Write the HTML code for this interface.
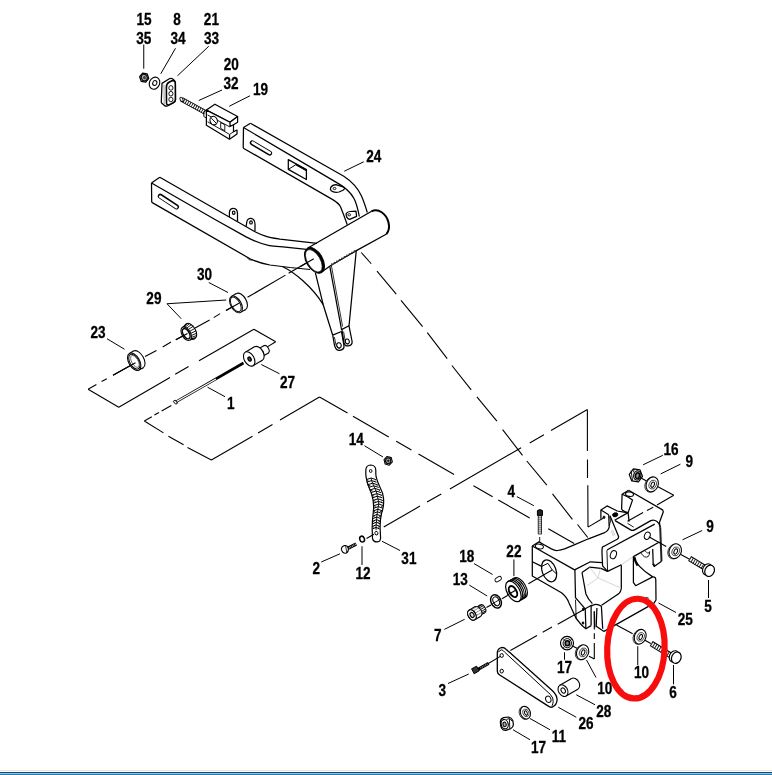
<!DOCTYPE html>
<html><head><meta charset="utf-8"><title>Parts diagram</title>
<style>
html,body{margin:0;padding:0;background:#fff;}
body{width:772px;height:775px;overflow:hidden;position:relative;}
svg{position:absolute;left:0;top:0;display:block;will-change:transform;}
svg text{font-family:"Liberation Sans",sans-serif;font-weight:bold;fill:#000;stroke:#000;stroke-width:0.3px;}
.bar{position:absolute;left:0;width:772px;height:1px;}
</style></head><body>
<svg width="772" height="775" viewBox="0 0 772 775" fill="none" stroke-linecap="butt" stroke-linejoin="round">
<text transform="translate(144.00 24.90) scale(0.87 1)" text-anchor="middle" font-size="15.6">15</text>
<text transform="translate(143.80 44.20) scale(0.87 1)" text-anchor="middle" font-size="15.6">35</text>
<text transform="translate(176.90 24.90) scale(0.87 1)" text-anchor="middle" font-size="15.6">8</text>
<text transform="translate(178.10 44.20) scale(0.87 1)" text-anchor="middle" font-size="15.6">34</text>
<text transform="translate(211.40 24.90) scale(0.87 1)" text-anchor="middle" font-size="15.6">21</text>
<text transform="translate(211.60 44.20) scale(0.87 1)" text-anchor="middle" font-size="15.6">33</text>
<text transform="translate(231.20 69.90) scale(0.87 1)" text-anchor="middle" font-size="15.6">20</text>
<text transform="translate(231.00 89.20) scale(0.87 1)" text-anchor="middle" font-size="15.6">32</text>
<text transform="translate(260.60 95.40) scale(0.87 1)" text-anchor="middle" font-size="15.6">19</text>
<text transform="translate(373.80 161.70) scale(0.87 1)" text-anchor="middle" font-size="15.6">24</text>
<text transform="translate(204.50 280.00) scale(0.87 1)" text-anchor="middle" font-size="15.6">30</text>
<text transform="translate(153.90 304.20) scale(0.87 1)" text-anchor="middle" font-size="15.6">29</text>
<text transform="translate(98.00 337.90) scale(0.87 1)" text-anchor="middle" font-size="15.6">23</text>
<text transform="translate(287.50 387.70) scale(0.87 1)" text-anchor="middle" font-size="15.6">27</text>
<text transform="translate(230.80 409.20) scale(0.87 1)" text-anchor="middle" font-size="15.6">1</text>
<text transform="translate(356.20 444.70) scale(0.87 1)" text-anchor="middle" font-size="15.6">14</text>
<text transform="translate(316.30 573.70) scale(0.87 1)" text-anchor="middle" font-size="15.6">2</text>
<text transform="translate(363.10 579.20) scale(0.87 1)" text-anchor="middle" font-size="15.6">12</text>
<text transform="translate(408.90 563.70) scale(0.87 1)" text-anchor="middle" font-size="15.6">31</text>
<text transform="translate(466.80 562.20) scale(0.87 1)" text-anchor="middle" font-size="15.6">18</text>
<text transform="translate(460.20 584.70) scale(0.87 1)" text-anchor="middle" font-size="15.6">13</text>
<text transform="translate(513.90 556.80) scale(0.87 1)" text-anchor="middle" font-size="15.6">22</text>
<text transform="translate(437.80 640.80) scale(0.87 1)" text-anchor="middle" font-size="15.6">7</text>
<text transform="translate(511.30 496.80) scale(0.87 1)" text-anchor="middle" font-size="15.6">4</text>
<text transform="translate(671.00 454.70) scale(0.87 1)" text-anchor="middle" font-size="15.6">16</text>
<text transform="translate(689.20 466.70) scale(0.87 1)" text-anchor="middle" font-size="15.6">9</text>
<text transform="translate(710.00 532.40) scale(0.87 1)" text-anchor="middle" font-size="15.6">9</text>
<text transform="translate(708.00 612.30) scale(0.87 1)" text-anchor="middle" font-size="15.6">5</text>
<text transform="translate(685.30 624.90) scale(0.87 1)" text-anchor="middle" font-size="15.6">25</text>
<text transform="translate(641.50 677.90) scale(0.87 1)" text-anchor="middle" font-size="15.6">10</text>
<text transform="translate(673.00 697.90) scale(0.87 1)" text-anchor="middle" font-size="15.6">6</text>
<text transform="translate(604.80 694.10) scale(0.87 1)" text-anchor="middle" font-size="15.6">10</text>
<text transform="translate(603.80 716.50) scale(0.87 1)" text-anchor="middle" font-size="15.6">28</text>
<text transform="translate(586.10 728.80) scale(0.87 1)" text-anchor="middle" font-size="15.6">26</text>
<text transform="translate(564.60 673.20) scale(0.87 1)" text-anchor="middle" font-size="15.6">17</text>
<text transform="translate(558.80 742.00) scale(0.87 1)" text-anchor="middle" font-size="15.6">11</text>
<text transform="translate(538.50 752.70) scale(0.87 1)" text-anchor="middle" font-size="15.6">17</text>
<text transform="translate(442.30 696.40) scale(0.87 1)" text-anchor="middle" font-size="15.6">3</text>
<path d="M143.75,44.50 L143.75,68.75 M175.50,48.25 L160.75,73.75 M208.75,46.25 L177.50,75.75 M222.00,90.00 L198.75,100.50 M250.00,95.75 L229.25,106.25 M344.25,171.25 L363.75,161.75 M208.75,282.50 L228.00,292.50 M167.00,303.75 L226.25,300.00 M167.00,303.75 L181.25,318.75 M107.00,338.75 L124.50,349.25 M261.25,364.50 L279.50,373.75 M207.50,387.20 L225.00,396.70 M364.50,445.75 L383.00,457.00 M321.25,562.00 L340.00,553.75 M362.00,546.25 L362.00,565.00 M382.00,541.25 L400.00,550.50 M474.00,563.60 L492.60,574.50 M469.30,585.10 L487.20,596.00 M513.90,559.40 L513.90,576.10 M444.40,629.40 L464.60,619.30 M516.80,496.60 L533.90,505.70 M643.10,464.80 L662.80,455.30 M660.70,473.90 L680.40,464.20 M682.50,539.80 L702.20,530.50 M708.50,580.00 L708.50,598.00 M658.50,603.00 L676.00,612.50 M637.75,646.25 L637.75,665.00 M673.50,665.00 L673.50,684.25 M586.50,660.00 L596.00,677.50 M576.25,694.75 L595.00,704.75 M558.25,707.25 L576.25,717.25 M564.50,652.25 L564.50,659.75 M530.00,718.50 L550.00,729.75 M513.00,729.75 L530.00,739.75 M448.00,683.50 L468.75,674.00" stroke="#000" stroke-width="1.0" fill="none" />
<path d="M361.25,252.50 L371.25,263.75 M377.00,271.20 L396.25,294.20 M401.00,300.30 L422.60,326.60 M427.30,332.60 L447.20,358.60 M451.90,365.50 L471.20,389.80 M476.90,396.90 L496.90,421.10 M502.60,429.70 L522.50,455.30 M526.80,461.00 L546.80,485.20 M552.50,493.80 L572.40,519.40 M577.50,524.50 L587.80,537.50 M313.75,258.75 L288.60,273.30 M285.50,275.10 L247.50,297.30 M239.40,303.10 L226.00,310.60 M220.10,313.60 L213.70,317.60 M209.60,320.00 L195.10,328.10 M187.50,333.40 L175.80,339.80 M171.00,342.10 L162.70,346.90 M156.50,350.40 L145.10,356.60 M135.00,363.00 L113.00,375.30 M106.80,378.80 L101.60,381.50 M96.40,384.60 L88.10,389.20 M88.10,389.20 L118.75,407.20 M118.75,407.20 L170.00,377.40 M175.20,374.20 L188.60,366.40 M199.00,360.80 L253.90,329.30 M253.90,329.30 L275.70,341.70 M275.70,341.70 L266.50,347.40 M144.30,421.00 L151.80,416.70 M154.40,415.00 L159.00,412.50 M161.60,410.90 L171.30,405.50 M144.30,421.00 L163.50,432.90 M168.40,436.20 L183.60,444.80 M187.50,447.40 L211.40,460.10 M211.40,460.10 L252.50,436.20 M258.00,433.00 L272.50,424.50 M280.00,420.00 L319.50,397.00 M319.50,397.00 L347.50,413.10 M353.00,416.30 L388.75,436.90 M396.25,441.20 L411.40,449.90 M418.50,454.00 L454.10,474.50 M473.50,485.70 L492.60,496.70 M498.30,500.00 L529.70,518.00 M548.30,528.70 L574.20,543.60 M383.75,527.00 L420.00,506.10 M427.00,502.10 L441.25,493.90 M449.90,488.90 L521.10,447.80 M529.70,442.90 L543.90,434.70 M551.00,430.60 L587.40,409.60 M587.40,409.60 L587.40,451.00 M587.50,459.60 L587.50,478.10 M587.80,485.20 L588.00,527.10 M588.00,527.10 L603.00,518.30" stroke="#000" stroke-width="1.1" fill="none" />
<path d="M250.5,123.3 L343.8,176.2 C352,181.5 358.5,189.5 361.5,196 C363.5,200.5 365.5,206.5 367.3,212.5" stroke="#000" stroke-width="1.25" fill="none" />
<path d="M243.5,127.5 L336.8,182.6 C345,187 351,193 354,198.5 C356.5,203.5 358,209.5 359.3,216.5" stroke="#000" stroke-width="1.25" fill="none" />
<path d="M243.5,127.5 L250.5,123.3" stroke="#000" stroke-width="1.25" fill="none" />
<path d="M243.5,127.5 L243.2,147.2 Q243.2,148.2 244.2,148.7 L331,198.6 C337,201.8 339.5,204 340.8,207.5 L343.8,215.3 L347.3,224.8" stroke="#000" stroke-width="1.25" fill="none" />
<path d="M252.3,142.9 L269.6,153.2" stroke="#000" stroke-width="5.0" fill="none" stroke-linecap="round"/>
<path d="M252.6,142.6 L269.8,152.8" stroke="#fff" stroke-width="2.6" fill="none" stroke-linecap="round"/>
<path d="M288.30,159.60 L306.40,169.60 L306.40,179.50 L288.30,169.40 Z" stroke="#000" stroke-width="1.25" fill="none" />
<path d="M288.30,169.40 L295.70,164.80 L306.40,170.90" stroke="#000" stroke-width="1.0" fill="none" />
<path d="M295.70,164.00 L306.40,170.00" stroke="#000" stroke-width="1.4" fill="none" />
<path d="M330.6,187.6 Q332.5,184.6 336,184.6 L343.8,187.2 Q345.6,188.6 343,190.2 L339,192 Q334,193 331.2,190.8 Q330,189.2 330.6,187.6 Z" stroke="#000" stroke-width="1.25" fill="none" />
<ellipse cx="334.50" cy="188.50" rx="1.40" ry="1.10" stroke="#000" stroke-width="0.9" fill="none"/>
<path d="M346.1,213.6 Q347.5,211.6 350,211.5 L356,211.2 L356.6,216.4 L349.6,219.4 Q346,218.5 346.1,213.6 Z" stroke="#000" stroke-width="1.25" fill="none" />
<ellipse cx="349.20" cy="214.80" rx="1.40" ry="1.10" stroke="#000" stroke-width="0.9" fill="none"/>
<path d="M159.8,177.3 L255,231.8 C259,233.9 262,235 265.5,236.1 C270,237.6 274,238.2 280,239.2 L317,243.4" stroke="#000" stroke-width="1.25" fill="none" />
<path d="M151.5,183 L215,219.5 L246.1,236.9 C254,241.0 262,244.2 269.4,245.6 C274,246.4 279,246.5 283,246.8 L306.5,249.4" stroke="#000" stroke-width="1.25" fill="none" />
<path d="M151.5,183 L159.8,177.3" stroke="#000" stroke-width="1.25" fill="none" />
<path d="M151.5,183 L151.7,201.4 Q151.7,202.4 152.7,202.9 L250,258.75 C258,262.5 264,264 270,265 L290,267.5 L310,269.5" stroke="#000" stroke-width="1.25" fill="none" />
<path d="M160.3,196.2 L176.5,206.8" stroke="#000" stroke-width="5.0" fill="none" stroke-linecap="round"/>
<path d="M160.2,196.6 L176.3,207.2" stroke="#fff" stroke-width="2.6" fill="none" stroke-linecap="round"/>
<path d="M229.4,216.9 L229.4,212.6 C229.6,206.8 237.3,206.6 237.5,213.4 L237.5,221.8" stroke="#000" stroke-width="1.25" fill="none" />
<ellipse cx="233.70" cy="212.70" rx="1.30" ry="1.60" stroke="#000" stroke-width="1.2" fill="none"/>
<path d="M246.1,226.6 L246.8,222 C247.6,216.4 254.8,217.2 255,224 L255,231.2" stroke="#000" stroke-width="1.25" fill="none" />
<ellipse cx="251.00" cy="222.40" rx="1.30" ry="1.60" stroke="#000" stroke-width="1.2" fill="none"/>
<path d="M247,257.5 Q249,261 252.5,260" stroke="#000" stroke-width="0.9" fill="none" />
<path d="M307.4,248.3 L371.6,211.3" stroke="#000" stroke-width="1.25" fill="none" />
<path d="M322.4,271.4 L330.4,265.7 L357.3,250.1 L386.6,234.0" stroke="#000" stroke-width="1.25" fill="none" />
<path d="M331.5,264.6 L356.5,250.1" stroke="#333" stroke-width="2.0" fill="none" stroke-dasharray="1.3 1.6"/>
<path d="M371.4,211.4 C378.5,208 386,213.5 388.4,222 C389.8,227.5 388.6,231.5 386.4,234.2" stroke="#000" stroke-width="2.0" fill="none" />
<ellipse cx="314.50" cy="260.40" rx="8.20" ry="14.00" stroke="#000" stroke-width="1.0" fill="#000" transform="rotate(-30.5 314.50 260.40)"/>
<ellipse cx="313.80" cy="260.80" rx="6.40" ry="12.40" stroke="#000" stroke-width="0.6" fill="#fff" transform="rotate(-30.5 313.80 260.80)"/>
<line x1="313.75" y1="258.75" x2="300.00" y2="266.80" stroke="#000" stroke-width="1.1" />
<path d="M282.8,266.7 C293,271.5 312,286 323.2,304.7" stroke="#000" stroke-width="1.25" fill="none" />
<path d="M315.4,272.9 L323.2,304.7 L332.7,335.2" stroke="#000" stroke-width="1.25" fill="none" />
<path d="M329.8,266.3 L341.6,330" stroke="#000" stroke-width="1.25" fill="none" />
<path d="M331.4,265.6 L342.6,326.5" stroke="#000" stroke-width="0.8" fill="none" />
<path d="M356.3,250.3 L349,326" stroke="#000" stroke-width="1.25" fill="none" />
<path d="M332.7,335.2 L341.5,331.5 M332.7,335.2 L334.5,345.3 Q336,350.8 340,350.3 Q344.5,349.5 344,346 L341.5,331.5" stroke="#000" stroke-width="1.25" fill="none" />
<ellipse cx="339.00" cy="345.30" rx="2.20" ry="2.60" stroke="#000" stroke-width="1.0" fill="none" transform="rotate(-15 339.00 345.30)"/>
<path d="M334.4,337.0 L336.0,345.0 Q337.2,348.8 340.2,348.6" stroke="#000" stroke-width="0.8" fill="none" />
<path d="M341.5,329.6 L349,325.8 M342,330.2 L344,342.8 Q345,346.5 348.4,345.9 Q352.6,345 352.1,341.5 L349,325.8" stroke="#000" stroke-width="1.25" fill="none" />
<ellipse cx="347.30" cy="341.30" rx="2.00" ry="2.40" stroke="#000" stroke-width="1.0" fill="none" transform="rotate(-15 347.30 341.30)"/>
<path d="M343.6,331.6 L345.4,342.2 Q346.2,344.6 348.4,344.4" stroke="#000" stroke-width="0.8" fill="none" />
<path d="M148.73,78.44 L145.77,82.14 L141.24,81.30 L139.67,76.76 L142.63,73.06 L147.16,73.90 Z" stroke="#000" stroke-width="1.3" fill="#fff" />
<ellipse cx="144.30" cy="77.60" rx="2.90" ry="3.30" stroke="#111" stroke-width="1.3" fill="#bbb" transform="rotate(-20 144.30 77.60)"/>
<ellipse cx="144.50" cy="77.60" rx="1.10" ry="1.30" stroke="#222" stroke-width="0.7" fill="#555" transform="rotate(-20 144.50 77.60)"/>
<ellipse cx="154.50" cy="83.20" rx="5.10" ry="6.20" stroke="#000" stroke-width="1.1" fill="#fff" transform="rotate(25 154.50 83.20)"/>
<ellipse cx="154.80" cy="83.00" rx="2.00" ry="2.50" stroke="#000" stroke-width="1.0" fill="#fff" transform="rotate(25 154.80 83.00)"/>
<path d="M162,83.4 L169.3,78.8 Q171.5,77.8 173.5,79.6 Q175.4,81.2 175.4,83.5 L175.5,100 Q175.3,102 173.6,102.8 L167.4,106 Q165.6,106.6 164.2,105.2 L161.6,103 Q161.2,102.4 161.3,101.5 Z" stroke="#000" stroke-width="1.25" fill="#fff" />
<path d="M166.4,87.5 Q166.2,84 169,82.3 L172,80.7 Q175.2,80.2 175.3,83.5 L175.4,99.5 Q175.2,101.8 173.4,102.6 L169,104.9 Q166.6,105.4 166.5,103 Z" stroke="#000" stroke-width="1.6" fill="#fff" />
<line x1="164.00" y1="84.50" x2="164.20" y2="104.20" stroke="#777" stroke-width="0.7" />
<ellipse cx="170.90" cy="87.90" rx="2.10" ry="2.30" stroke="#000" stroke-width="0.9" fill="none"/>
<ellipse cx="170.90" cy="93.70" rx="2.10" ry="2.30" stroke="#000" stroke-width="0.9" fill="none"/>
<ellipse cx="170.90" cy="99.50" rx="2.10" ry="2.30" stroke="#000" stroke-width="0.9" fill="none"/>
<path d="M181.6,99.4 L205.3,112.3" stroke="#000" stroke-width="4.8" fill="none" />
<path d="M181.6,99.4 L205.3,112.3" stroke="#fff" stroke-width="3.2" fill="none" />
<path d="M181.6,99.4 L205.3,112.3" stroke="#111" stroke-width="4.0" fill="none" stroke-dasharray="0.9 1.4"/>
<ellipse cx="181.50" cy="99.40" rx="1.30" ry="2.40" stroke="#000" stroke-width="0.9" fill="#fff" transform="rotate(-28 181.50 99.40)"/>
<path d="M206.40,110.10 L214.90,104.20 L237.60,116.50 L230.00,122.30 Z" stroke="#000" stroke-width="1.25" fill="#fff" />
<path d="M206.40,110.10 L206.40,125.20 L229.50,139.20 L237.00,134.00 L237.00,130.00 L233.50,131.80 L233.50,124.80 L237.60,122.20 L237.60,116.50 L230.00,122.30 L206.40,110.10" stroke="#000" stroke-width="1.25" fill="#fff" />
<path d="M230.00,122.30 L230.00,126.40 L233.50,124.80" stroke="#000" stroke-width="1.25" fill="none" />
<path d="M207.60,115.00 L230.00,127.00" stroke="#000" stroke-width="0.9" fill="none" />
<path d="M207.60,121.80 L229.60,134.40 L233.50,131.80" stroke="#000" stroke-width="0.9" fill="none" />
<path d="M229.60,134.40 L229.50,139.20" stroke="#000" stroke-width="1.25" fill="none" />
<ellipse cx="213.70" cy="120.60" rx="3.60" ry="4.30" stroke="#000" stroke-width="1.1" fill="#fff" transform="rotate(-20 213.70 120.60)"/>
<line x1="211.30" y1="118.20" x2="216.20" y2="123.20" stroke="#000" stroke-width="1.0" />
<path d="M220.70,122.50 L224.80,124.80 L224.80,130.80 L220.70,128.40 Z" stroke="#000" stroke-width="0.9" fill="none" />
<line x1="206.40" y1="110.10" x2="203.80" y2="111.80" stroke="#000" stroke-width="0.9" />
<line x1="203.80" y1="111.80" x2="203.80" y2="116.50" stroke="#000" stroke-width="0.9" />
<line x1="203.80" y1="116.50" x2="206.40" y2="118.00" stroke="#000" stroke-width="0.9" />
<ellipse cx="241.02" cy="301.49" rx="5.20" ry="9.20" stroke="#000" stroke-width="1.1" fill="#fff" transform="rotate(-30 241.02 301.49)"/>
<path d="M231.38,296.44 L236.40,293.53 L245.64,309.45 L240.62,312.36 Z" stroke="#fff" stroke-width="0.01" fill="#fff" />
<line x1="231.38" y1="296.44" x2="236.40" y2="293.53" stroke="#000" stroke-width="1.1" />
<line x1="240.62" y1="312.36" x2="245.64" y2="309.45" stroke="#000" stroke-width="1.1" />
<ellipse cx="236.00" cy="304.40" rx="5.20" ry="9.20" stroke="#000" stroke-width="1.1" fill="#fff" transform="rotate(-30 236.00 304.40)"/>
<ellipse cx="235.80" cy="304.40" rx="4.20" ry="8.00" stroke="#000" stroke-width="0.9" fill="#fff" transform="rotate(-30 235.80 304.40)"/>
<line x1="226.00" y1="310.60" x2="239.40" y2="303.10" stroke="#000" stroke-width="1.1" />
<ellipse cx="190.60" cy="331.20" rx="5.00" ry="8.60" stroke="#000" stroke-width="1.1" fill="#fff" transform="rotate(-30 190.60 331.20)"/>
<line x1="184.54" y1="326.88" x2="180.99" y2="329.98" stroke="#000" stroke-width="0.9" />
<line x1="185.08" y1="325.06" x2="181.45" y2="328.42" stroke="#000" stroke-width="0.9" />
<line x1="186.15" y1="323.85" x2="182.37" y2="327.37" stroke="#000" stroke-width="0.9" />
<line x1="187.66" y1="323.35" x2="183.67" y2="326.95" stroke="#000" stroke-width="0.9" />
<line x1="189.45" y1="323.63" x2="185.21" y2="327.18" stroke="#000" stroke-width="0.9" />
<line x1="191.36" y1="324.64" x2="186.85" y2="328.06" stroke="#000" stroke-width="0.9" />
<line x1="193.19" y1="326.30" x2="188.43" y2="329.48" stroke="#000" stroke-width="0.9" />
<line x1="194.77" y1="328.43" x2="189.79" y2="331.32" stroke="#000" stroke-width="0.9" />
<line x1="195.94" y1="330.84" x2="190.80" y2="333.39" stroke="#000" stroke-width="0.9" />
<line x1="196.59" y1="333.29" x2="191.36" y2="335.50" stroke="#000" stroke-width="0.9" />
<line x1="196.66" y1="335.52" x2="191.41" y2="337.42" stroke="#000" stroke-width="0.9" />
<line x1="196.12" y1="337.34" x2="190.95" y2="338.98" stroke="#000" stroke-width="0.9" />
<line x1="195.05" y1="338.55" x2="190.03" y2="340.03" stroke="#000" stroke-width="0.9" />
<ellipse cx="186.20" cy="333.70" rx="4.30" ry="7.40" stroke="#000" stroke-width="1.1" fill="#fff" transform="rotate(-30 186.20 333.70)"/>
<ellipse cx="186.20" cy="333.70" rx="3.00" ry="5.60" stroke="#000" stroke-width="1.5" fill="#fff" transform="rotate(-30 186.20 333.70)"/>
<line x1="175.80" y1="339.80" x2="187.50" y2="333.40" stroke="#000" stroke-width="1.1" />
<ellipse cx="138.35" cy="359.39" rx="5.40" ry="9.60" stroke="#000" stroke-width="1.1" fill="#fff" transform="rotate(-30 138.35 359.39)"/>
<path d="M129.38,353.50 L133.53,351.09 L143.17,367.69 L139.02,370.10 Z" stroke="#fff" stroke-width="0.01" fill="#fff" />
<line x1="129.38" y1="353.50" x2="133.53" y2="351.09" stroke="#000" stroke-width="1.1" />
<line x1="139.02" y1="370.10" x2="143.17" y2="367.69" stroke="#000" stroke-width="1.1" />
<ellipse cx="134.20" cy="361.80" rx="5.40" ry="9.60" stroke="#000" stroke-width="1.1" fill="#fff" transform="rotate(-30 134.20 361.80)"/>
<ellipse cx="134.30" cy="361.70" rx="4.40" ry="8.20" stroke="#000" stroke-width="1.0" fill="#fff" transform="rotate(-30 134.30 361.70)"/>
<ellipse cx="134.90" cy="361.40" rx="3.20" ry="6.60" stroke="#555" stroke-width="0.8" fill="#fff" transform="rotate(-30 134.90 361.40)"/>
<line x1="113.00" y1="375.30" x2="135.50" y2="362.70" stroke="#000" stroke-width="1.1" />
<ellipse cx="265.95" cy="349.44" rx="2.70" ry="4.30" stroke="#000" stroke-width="1.1" fill="#fff" transform="rotate(-30 265.95 349.44)"/>
<path d="M258.34,348.88 L263.79,345.72 L268.11,353.16 L262.66,356.32 Z" stroke="#fff" stroke-width="0.01" fill="#fff" />
<line x1="258.34" y1="348.88" x2="263.79" y2="345.72" stroke="#000" stroke-width="1.1" />
<line x1="262.66" y1="356.32" x2="268.11" y2="353.16" stroke="#000" stroke-width="1.1" />
<ellipse cx="260.50" cy="352.60" rx="2.70" ry="4.30" stroke="#000" stroke-width="1.1" fill="#fff" transform="rotate(-30 260.50 352.60)"/>
<ellipse cx="258.37" cy="353.58" rx="4.90" ry="7.80" stroke="#000" stroke-width="1.1" fill="#fff" transform="rotate(-30 258.37 353.58)"/>
<path d="M245.28,352.15 L254.45,346.83 L262.28,360.33 L253.12,365.65 Z" stroke="#fff" stroke-width="0.01" fill="#fff" />
<line x1="245.28" y1="352.15" x2="254.45" y2="346.83" stroke="#000" stroke-width="1.1" />
<line x1="253.12" y1="365.65" x2="262.28" y2="360.33" stroke="#000" stroke-width="1.1" />
<ellipse cx="249.20" cy="358.90" rx="4.90" ry="7.80" stroke="#000" stroke-width="1.1" fill="#fff" transform="rotate(-30 249.20 358.90)"/>
<ellipse cx="249.60" cy="359.10" rx="1.40" ry="2.10" stroke="#000" stroke-width="1.4" fill="#555" transform="rotate(-30 249.60 359.10)"/>
<path d="M175.5,402.2 L243.5,363.0" stroke="#000" stroke-width="2.6" fill="none" />
<path d="M176.5,401.6 L216,378.9" stroke="#fff" stroke-width="1.2" fill="none" />
<path d="M173.2,401.4 L175.7,404.2 L177.6,403.2 L175.2,400.2 Z" stroke="#000" stroke-width="1.0" fill="#fff" />
<path d="M392.35,461.97 L389.31,465.16 L385.16,463.99 L384.05,459.63 L387.09,456.44 L391.24,457.61 Z" stroke="#000" stroke-width="1.1" fill="#fff" />
<ellipse cx="388.20" cy="460.80" rx="2.37" ry="2.58" stroke="#000" stroke-width="0.9" fill="#fff"/>
<ellipse cx="388.20" cy="460.80" rx="2.60" ry="2.90" stroke="#111" stroke-width="1.3" fill="#bbb"/>
<ellipse cx="388.30" cy="460.80" rx="0.90" ry="1.00" stroke="#000" stroke-width="0.6" fill="#333"/>
<path d="M365.8,474 L365.8,470.5 Q365.8,465.2 370.7,465.0 Q375.8,465.2 375.8,470.5 L375.8,474 C376,481 380.3,486.5 382.6,493.5 C384.4,500.5 383.9,507 381.6,513 C380.2,519 379.9,524 380.2,530 L380.6,538 Q380.4,541.6 377.5,541.9 Q373.5,542.2 372.5,538.5 L372.2,530 C372,524 372.4,519 373.3,512 C374.2,505 373.6,500 371.6,494 C369,487 366,482 365.8,474 Z" stroke="#000" stroke-width="1.2" fill="#fff" />
<line x1="366.42" y1="479.60" x2="371.11" y2="478.00" stroke="#000" stroke-width="1.0" />
<line x1="371.11" y1="478.00" x2="375.80" y2="479.60" stroke="#000" stroke-width="1.0" />
<line x1="371.11" y1="478.00" x2="371.57" y2="480.60" stroke="#000" stroke-width="0.9" />
<line x1="366.42" y1="479.60" x2="368.37" y2="480.60" stroke="#000" stroke-width="0.8" />
<line x1="375.80" y1="479.60" x2="374.78" y2="480.60" stroke="#000" stroke-width="0.8" />
<line x1="366.57" y1="482.20" x2="371.57" y2="480.60" stroke="#000" stroke-width="1.0" />
<line x1="371.57" y1="480.60" x2="376.58" y2="482.20" stroke="#000" stroke-width="1.0" />
<line x1="371.57" y1="480.60" x2="372.58" y2="483.20" stroke="#000" stroke-width="0.9" />
<line x1="367.48" y1="484.80" x2="372.58" y2="483.20" stroke="#000" stroke-width="1.0" />
<line x1="372.58" y1="483.20" x2="377.67" y2="484.80" stroke="#000" stroke-width="1.0" />
<line x1="372.58" y1="483.20" x2="373.70" y2="485.80" stroke="#000" stroke-width="0.9" />
<line x1="367.48" y1="484.80" x2="370.44" y2="485.80" stroke="#000" stroke-width="0.8" />
<line x1="377.67" y1="484.80" x2="376.97" y2="485.80" stroke="#000" stroke-width="0.8" />
<line x1="368.64" y1="487.40" x2="373.70" y2="485.80" stroke="#000" stroke-width="1.0" />
<line x1="373.70" y1="485.80" x2="378.77" y2="487.40" stroke="#000" stroke-width="1.0" />
<line x1="373.70" y1="485.80" x2="374.83" y2="488.40" stroke="#000" stroke-width="0.9" />
<line x1="369.79" y1="490.00" x2="374.83" y2="488.40" stroke="#000" stroke-width="1.0" />
<line x1="374.83" y1="488.40" x2="379.87" y2="490.00" stroke="#000" stroke-width="1.0" />
<line x1="374.83" y1="488.40" x2="375.95" y2="491.00" stroke="#000" stroke-width="0.9" />
<line x1="369.79" y1="490.00" x2="372.74" y2="491.00" stroke="#000" stroke-width="0.8" />
<line x1="379.87" y1="490.00" x2="379.17" y2="491.00" stroke="#000" stroke-width="0.8" />
<line x1="370.94" y1="492.60" x2="375.95" y2="491.00" stroke="#000" stroke-width="1.0" />
<line x1="375.95" y1="491.00" x2="380.97" y2="492.60" stroke="#000" stroke-width="1.0" />
<line x1="375.95" y1="491.00" x2="376.83" y2="493.60" stroke="#000" stroke-width="0.9" />
<line x1="371.88" y1="495.20" x2="376.83" y2="493.60" stroke="#000" stroke-width="1.0" />
<line x1="376.83" y1="493.60" x2="381.78" y2="495.20" stroke="#000" stroke-width="1.0" />
<line x1="376.83" y1="493.60" x2="377.37" y2="496.20" stroke="#000" stroke-width="0.9" />
<line x1="371.88" y1="495.20" x2="374.32" y2="496.20" stroke="#000" stroke-width="0.8" />
<line x1="381.78" y1="495.20" x2="380.42" y2="496.20" stroke="#000" stroke-width="0.8" />
<line x1="372.52" y1="497.80" x2="377.37" y2="496.20" stroke="#000" stroke-width="1.0" />
<line x1="377.37" y1="496.20" x2="382.22" y2="497.80" stroke="#000" stroke-width="1.0" />
<line x1="377.37" y1="496.20" x2="377.92" y2="498.80" stroke="#000" stroke-width="0.9" />
<line x1="373.18" y1="500.40" x2="377.92" y2="498.80" stroke="#000" stroke-width="1.0" />
<line x1="377.92" y1="498.80" x2="382.66" y2="500.40" stroke="#000" stroke-width="1.0" />
<line x1="377.92" y1="498.80" x2="378.46" y2="501.40" stroke="#000" stroke-width="0.9" />
<line x1="373.18" y1="500.40" x2="375.63" y2="501.40" stroke="#000" stroke-width="0.8" />
<line x1="382.66" y1="500.40" x2="381.30" y2="501.40" stroke="#000" stroke-width="0.8" />
<line x1="373.83" y1="503.00" x2="378.46" y2="501.40" stroke="#000" stroke-width="1.0" />
<line x1="378.46" y1="501.40" x2="383.10" y2="503.00" stroke="#000" stroke-width="1.0" />
<line x1="378.46" y1="501.40" x2="378.72" y2="504.00" stroke="#000" stroke-width="0.9" />
<line x1="373.98" y1="505.60" x2="378.72" y2="504.00" stroke="#000" stroke-width="1.0" />
<line x1="378.72" y1="504.00" x2="383.45" y2="505.60" stroke="#000" stroke-width="1.0" />
<line x1="378.72" y1="504.00" x2="378.31" y2="506.60" stroke="#000" stroke-width="0.9" />
<line x1="373.98" y1="505.60" x2="375.57" y2="506.60" stroke="#000" stroke-width="0.8" />
<line x1="383.45" y1="505.60" x2="381.05" y2="506.60" stroke="#000" stroke-width="0.8" />
<line x1="373.77" y1="508.20" x2="378.31" y2="506.60" stroke="#000" stroke-width="1.0" />
<line x1="378.31" y1="506.60" x2="382.85" y2="508.20" stroke="#000" stroke-width="1.0" />
<line x1="378.31" y1="506.60" x2="377.90" y2="509.20" stroke="#000" stroke-width="0.9" />
<line x1="373.56" y1="510.80" x2="377.90" y2="509.20" stroke="#000" stroke-width="1.0" />
<line x1="377.90" y1="509.20" x2="382.24" y2="510.80" stroke="#000" stroke-width="1.0" />
<line x1="377.90" y1="509.20" x2="377.49" y2="511.80" stroke="#000" stroke-width="0.9" />
<line x1="373.56" y1="510.80" x2="375.15" y2="511.80" stroke="#000" stroke-width="0.8" />
<line x1="382.24" y1="510.80" x2="379.83" y2="511.80" stroke="#000" stroke-width="0.8" />
<line x1="373.35" y1="513.40" x2="377.49" y2="511.80" stroke="#000" stroke-width="1.0" />
<line x1="377.49" y1="511.80" x2="381.63" y2="513.40" stroke="#000" stroke-width="1.0" />
<line x1="377.49" y1="511.80" x2="377.08" y2="514.40" stroke="#000" stroke-width="0.9" />
<line x1="373.14" y1="516.00" x2="377.08" y2="514.40" stroke="#000" stroke-width="1.0" />
<line x1="377.08" y1="514.40" x2="381.02" y2="516.00" stroke="#000" stroke-width="1.0" />
<line x1="377.08" y1="514.40" x2="376.74" y2="517.00" stroke="#000" stroke-width="0.9" />
<line x1="373.14" y1="516.00" x2="374.76" y2="517.00" stroke="#000" stroke-width="0.8" />
<line x1="381.02" y1="516.00" x2="378.73" y2="517.00" stroke="#000" stroke-width="0.8" />
<line x1="372.96" y1="518.60" x2="376.74" y2="517.00" stroke="#000" stroke-width="1.0" />
<line x1="376.74" y1="517.00" x2="380.53" y2="518.60" stroke="#000" stroke-width="1.0" />
<line x1="376.74" y1="517.00" x2="376.56" y2="519.60" stroke="#000" stroke-width="0.9" />
<line x1="372.82" y1="521.20" x2="376.56" y2="519.60" stroke="#000" stroke-width="1.0" />
<line x1="376.56" y1="519.60" x2="380.30" y2="521.20" stroke="#000" stroke-width="1.0" />
<line x1="376.56" y1="519.60" x2="376.38" y2="522.20" stroke="#000" stroke-width="0.9" />
<line x1="372.82" y1="521.20" x2="374.48" y2="522.20" stroke="#000" stroke-width="0.8" />
<line x1="380.30" y1="521.20" x2="378.27" y2="522.20" stroke="#000" stroke-width="0.8" />
<line x1="372.68" y1="523.80" x2="376.38" y2="522.20" stroke="#000" stroke-width="1.0" />
<line x1="376.38" y1="522.20" x2="380.07" y2="523.80" stroke="#000" stroke-width="1.0" />
<line x1="376.38" y1="522.20" x2="376.19" y2="524.80" stroke="#000" stroke-width="0.9" />
<line x1="372.54" y1="526.40" x2="376.19" y2="524.80" stroke="#000" stroke-width="1.0" />
<line x1="376.19" y1="524.80" x2="379.84" y2="526.40" stroke="#000" stroke-width="1.0" />
<line x1="376.19" y1="524.80" x2="376.01" y2="527.40" stroke="#000" stroke-width="0.9" />
<line x1="372.54" y1="526.40" x2="374.21" y2="527.40" stroke="#000" stroke-width="0.8" />
<line x1="379.84" y1="526.40" x2="377.81" y2="527.40" stroke="#000" stroke-width="0.8" />
<line x1="372.41" y1="529.00" x2="376.01" y2="527.40" stroke="#000" stroke-width="1.0" />
<line x1="376.01" y1="527.40" x2="379.61" y2="529.00" stroke="#000" stroke-width="1.0" />
<line x1="376.01" y1="527.40" x2="376.11" y2="530.00" stroke="#000" stroke-width="0.9" />
<ellipse cx="370.70" cy="471.00" rx="1.30" ry="1.50" stroke="#000" stroke-width="0.9" fill="none"/>
<ellipse cx="376.40" cy="533.20" rx="1.50" ry="1.90" stroke="#000" stroke-width="0.9" fill="none" transform="rotate(-20 376.40 533.20)"/>
<line x1="366.50" y1="538.40" x2="374.00" y2="534.30" stroke="#000" stroke-width="1.1" />
<ellipse cx="362.10" cy="539.10" rx="2.30" ry="3.00" stroke="#000" stroke-width="1.5" fill="#fff" transform="rotate(-20 362.10 539.10)"/>
<path d="M347.5,548.6 L356.2,543.9" stroke="#000" stroke-width="3.4" fill="none" />
<path d="M347.5,548.6 L356.0,544.0" stroke="#bbb" stroke-width="1.6" fill="none" stroke-dasharray="0.8 0.9"/>
<path d="M341.4,549.4 Q341.2,546.6 344.4,545.6 Q347.4,545.2 348.2,548 Q349,551.6 346,553.2 Q342.4,553.6 341.4,549.4 Z" stroke="#000" stroke-width="1.1" fill="#fff" />
<line x1="345.60" y1="545.60" x2="346.80" y2="552.60" stroke="#000" stroke-width="0.8" />
<path d="M532.3,546.0 L539,541.9 L544,544.7 L551.4,548.9 C554,550.3 556,550.7 557.6,550.5 C560,550.3 562,549.8 564.6,548.9 L574.2,544.9 L588.5,538.8 L604,532.9 Q608.2,531 609.2,527.1 L608.7,514.7" stroke="#000" stroke-width="1.25" fill="none" />
<path d="M532.3,546.0 L574.6,569.9 L590.4,561.8 L602,562.6" stroke="#000" stroke-width="1.25" fill="none" />
<path d="M532.3,546.0 L532.3,576.0 L561.5,592.8 C566,596.5 567.8,599.5 569,602.9 L576.2,618.5 L582,625.6 L585.9,628.8 L591.1,625.6" stroke="#000" stroke-width="1.25" fill="none" />
<path d="M532.3,561.7 L541.7,566.4" stroke="#000" stroke-width="1.25" fill="none" />
<path d="M574.9,569.9 L575.5,597.7 L585.2,608.8 L585.9,628.2" stroke="#000" stroke-width="1.25" fill="none" />
<path d="M575.5,599.7 L576.2,618.5" stroke="#000" stroke-width="0.9" fill="none" />
<ellipse cx="539.40" cy="546.50" rx="4.10" ry="2.30" stroke="#000" stroke-width="1.0" fill="none" transform="rotate(12 539.40 546.50)"/>
<ellipse cx="549.10" cy="570.80" rx="6.90" ry="11.40" stroke="#000" stroke-width="1.25" fill="#fff" transform="rotate(-20 549.10 570.80)"/>
<path d="M541.7,566.4 L547.9,563.3 L552.2,569.9 L556.8,574.2" stroke="#000" stroke-width="1.0" fill="none" />
<ellipse cx="583.30" cy="609.20" rx="0.90" ry="1.20" stroke="#000" stroke-width="0.8" fill="#000"/>
<ellipse cx="583.00" cy="623.00" rx="0.90" ry="1.20" stroke="#000" stroke-width="0.8" fill="#000"/>
<path d="M591.1,625.6 L591.1,606.2 Q595.8,602.4 601.4,606.2 L602.7,628.8" stroke="#000" stroke-width="1.25" fill="none" />
<path d="M596.9,608.1 L596.2,626.2 L604,631.4" stroke="#000" stroke-width="1.25" fill="none" />
<path d="M594.3,611 L594.8,627.5" stroke="#333" stroke-width="1.4" fill="none" />
<path d="M582,572.5 L589.6,567.2 L601,568.4 L607.6,571.4" stroke="#000" stroke-width="1.25" fill="none" />
<path d="M582,572.5 L585.9,593.9 Q588,599 592.4,603.6" stroke="#000" stroke-width="1.25" fill="none" />
<path d="M621.3,564.8 L621.3,588 Q621,592.5 617.5,594.6 L601.6,605.2" stroke="#000" stroke-width="1.25" fill="none" />
<path d="M589.6,567.2 L598,578 L621,588 M598,578 L586.5,586 M598,578 L600.5,568.5" stroke="#c4c4c4" stroke-width="0.7" fill="none" />
<path d="M608.7,529.2 L590,539 L574.5,545" stroke="none" stroke-width="0.01" fill="none" />
<path d="M600.9,518.8 L600.9,510 L607.1,505.9 L612.3,508.5 L617.2,511 L623.9,512.1 L628.1,512.6" stroke="#000" stroke-width="1.25" fill="none" />
<path d="M600.9,510 L608.7,514.7" stroke="#000" stroke-width="1.25" fill="none" />
<ellipse cx="604.00" cy="517.30" rx="1.00" ry="1.30" stroke="#000" stroke-width="0.8" fill="#222"/>
<ellipse cx="615.20" cy="514.80" rx="2.70" ry="2.00" stroke="#000" stroke-width="0.8" fill="#000" transform="rotate(-15 615.20 514.80)"/>
<path d="M610,515.8 L618.6,536.5 Q618.8,538.4 617.2,539.2 L605,545.8 L602.4,546.8" stroke="#000" stroke-width="1.25" fill="none" />
<path d="M609.7,516.7 Q611.6,520.5 609.3,525.6" stroke="#000" stroke-width="0.9" fill="none" />
<path d="M611.2,530.5 L613.4,536.2 M612.6,529.8 L614.8,535.5" stroke="#aaa" stroke-width="0.6" fill="none" />
<path d="M615.1,520.6 L630.6,529.9 Q632.8,531 635,529.6 L650.8,520.6 Q654,519.3 657,521.6 Q659.8,523.8 660.2,527.2" stroke="#000" stroke-width="1.25" fill="none" />
<path d="M614.6,520.3 L628.1,512.6" stroke="#000" stroke-width="1.25" fill="none" />
<path d="M607.3,549.7 L654.7,524.1" stroke="#000" stroke-width="1.25" fill="none" />
<path d="M602.4,546.8 Q601.8,550 602.0,553 L602.6,565.9 L607.6,571.4 L621.3,564.8" stroke="#000" stroke-width="1.25" fill="none" />
<path d="M621.3,564.8 L633.4,556.6" stroke="#bdbdbd" stroke-width="0.7" fill="none" />
<path d="M633.4,556.6 L659.4,542" stroke="#000" stroke-width="1.25" fill="none" />
<path d="M607.3,549.7 Q606.6,551 607.0,553 L607.6,571.4" stroke="#000" stroke-width="0.9" fill="none" />
<ellipse cx="613.40" cy="554.70" rx="2.90" ry="4.20" stroke="#000" stroke-width="1.0" fill="none" transform="rotate(22 613.40 554.70)"/>
<ellipse cx="647.30" cy="535.70" rx="2.80" ry="3.80" stroke="#000" stroke-width="1.0" fill="none" transform="rotate(22 647.30 535.70)"/>
<path d="M660.2,527.2 L661.5,561.3" stroke="#222" stroke-width="2.0" fill="none" />
<path d="M628.6,490.3 L662.5,509.9 Q663.6,511.2 663,512.8 L659.6,522 Q659.4,524.5 660.2,527.2" stroke="#000" stroke-width="1.25" fill="none" />
<path d="M621.6,508.9 L622.1,494.2 L628.6,490.3" stroke="#000" stroke-width="1.25" fill="none" />
<path d="M622.1,494.2 L628,497 L632.5,500.1 L628.1,512.6 L629.1,521.6" stroke="#000" stroke-width="1.25" fill="none" />
<path d="M621.6,508.9 Q622.6,511.2 628.1,512.6" stroke="#000" stroke-width="1.25" fill="none" />
<ellipse cx="629.50" cy="494.20" rx="4.00" ry="2.20" stroke="#000" stroke-width="1.1" fill="none" transform="rotate(8 629.50 494.20)"/>
<path d="M627.5,523.3 L633.7,527.2" stroke="#000" stroke-width="0.9" fill="none" />
<path d="M633.4,556.6 L633.4,582.4 L635.6,585.7 L652.7,576.9 Q655.8,576.6 655.8,580 L656,600 L653.8,603.4 L604,631.4" stroke="#000" stroke-width="1.25" fill="none" />
<path d="M633.4,556.6 Q636.5,566.5 652.7,576.9" stroke="#000" stroke-width="1.25" fill="none" />
<path d="M634.4,557.2 Q635.3,562 637.6,565.6" stroke="#000" stroke-width="2.2" fill="none" />
<path d="M661.5,561.3 L654.2,566.5 L652.6,563.6 M652.7,548.9 L653.2,564.6 M654.2,566.5 L654.0,563.8" stroke="#000" stroke-width="1.25" fill="none" />
<path d="M641.2,553.2 Q644.5,558.8 648.2,556.5 Q650,554.5 649.6,551.6" stroke="#000" stroke-width="0.9" fill="none" />
<path d="M645.2,551 Q648.5,555 649.6,551.6" stroke="#000" stroke-width="0.8" fill="none" />
<path d="M644.0,599.6 Q646.0,596 648.8,598.2" stroke="#000" stroke-width="0.9" fill="none" />
<path d="M641.50,478.20 L646.50,481.00 M657.50,486.60 L673.80,495.30 M673.80,495.30 L657.00,505.00 M653.20,507.20 L647.00,510.60 M643.10,512.60 L627.50,521.20" stroke="#000" stroke-width="1.1" fill="none" />
<path d="M642.53,476.38 L638.41,481.92 L631.78,480.94 L629.27,474.42 L633.39,468.88 L640.02,469.86 Z" stroke="#000" stroke-width="1.2" fill="#fff" />
<path d="M631.0,470.6 L632.6,480.8 M634.2,469.0 L633.4,472.4" stroke="#000" stroke-width="0.9" fill="none" />
<ellipse cx="637.30" cy="475.50" rx="3.60" ry="4.60" stroke="#000" stroke-width="1.2" fill="#fff" transform="rotate(10 637.30 475.50)"/>
<ellipse cx="637.50" cy="475.60" rx="2.00" ry="2.90" stroke="#000" stroke-width="1.5" fill="#999" transform="rotate(10 637.50 475.60)"/>
<ellipse cx="651.00" cy="484.70" rx="5.90" ry="7.70" stroke="#000" stroke-width="0.7" fill="#fff" transform="rotate(22 651.00 484.70)"/>
<ellipse cx="652.20" cy="484.40" rx="5.90" ry="7.70" stroke="#000" stroke-width="1.1" fill="#fff" transform="rotate(22 652.20 484.40)"/>
<ellipse cx="652.70" cy="484.60" rx="3.54" ry="4.62" stroke="#333" stroke-width="0.8" fill="#fff" transform="rotate(22 652.70 484.60)"/>
<ellipse cx="652.70" cy="484.70" rx="1.59" ry="2.77" stroke="#000" stroke-width="1.0" fill="#fff" transform="rotate(22 652.70 484.70)"/>
<path d="M648.80,536.70 L666.20,546.40 M680.80,554.40 L690.00,559.60" stroke="#000" stroke-width="1.1" fill="none" />
<ellipse cx="674.00" cy="551.50" rx="6.00" ry="7.60" stroke="#000" stroke-width="0.7" fill="#fff" transform="rotate(22 674.00 551.50)"/>
<ellipse cx="675.20" cy="551.20" rx="6.00" ry="7.60" stroke="#000" stroke-width="1.1" fill="#fff" transform="rotate(22 675.20 551.20)"/>
<ellipse cx="675.70" cy="551.40" rx="3.60" ry="4.56" stroke="#333" stroke-width="0.8" fill="#fff" transform="rotate(22 675.70 551.40)"/>
<ellipse cx="675.70" cy="551.50" rx="1.62" ry="2.74" stroke="#000" stroke-width="1.0" fill="#fff" transform="rotate(22 675.70 551.50)"/>
<path d="M689.7,558.6 L704.6,567.4" stroke="#000" stroke-width="5.8" fill="none" />
<path d="M689.7,558.6 L704.6,567.4" stroke="#fff" stroke-width="4.0" fill="none" />
<path d="M689.7,558.6 L704.6,567.4" stroke="#111" stroke-width="5.0" fill="none" stroke-dasharray="0.9 1.5"/>
<ellipse cx="707.40" cy="569.50" rx="4.60" ry="5.90" stroke="#000" stroke-width="1.1" fill="#fff" transform="rotate(25 707.40 569.50)"/>
<ellipse cx="709.60" cy="570.80" rx="4.60" ry="5.90" stroke="#000" stroke-width="1.2" fill="#fff" transform="rotate(25 709.60 570.80)"/>
<path d="M616.50,625.00 L632.70,633.70 M643.60,639.50 L650.80,643.60" stroke="#000" stroke-width="1.1" fill="none" />
<ellipse cx="639.00" cy="637.00" rx="5.70" ry="7.50" stroke="#000" stroke-width="0.7" fill="#fff" transform="rotate(22 639.00 637.00)"/>
<ellipse cx="640.20" cy="636.70" rx="5.70" ry="7.50" stroke="#000" stroke-width="1.1" fill="#fff" transform="rotate(22 640.20 636.70)"/>
<ellipse cx="640.70" cy="636.90" rx="3.42" ry="4.50" stroke="#333" stroke-width="0.8" fill="#fff" transform="rotate(22 640.70 636.90)"/>
<ellipse cx="640.70" cy="637.00" rx="1.54" ry="2.70" stroke="#000" stroke-width="1.0" fill="#fff" transform="rotate(22 640.70 637.00)"/>
<path d="M651.3,643.6 L671.0,655.6" stroke="#000" stroke-width="5.8" fill="none" />
<path d="M651.3,643.6 L671.0,655.6" stroke="#fff" stroke-width="4.0" fill="none" />
<path d="M651.3,643.6 L671.0,655.6" stroke="#111" stroke-width="5.0" fill="none" stroke-dasharray="0.9 1.5"/>
<ellipse cx="674.10" cy="656.40" rx="4.60" ry="5.90" stroke="#000" stroke-width="1.1" fill="#fff" transform="rotate(25 674.10 656.40)"/>
<ellipse cx="676.30" cy="657.70" rx="4.60" ry="5.90" stroke="#000" stroke-width="1.2" fill="#fff" transform="rotate(25 676.30 657.70)"/>
<ellipse cx="635.90" cy="648.60" rx="28.70" ry="49.90" stroke="#f80d0d" stroke-width="6.2" fill="none" transform="rotate(2.5 635.90 648.60)"/>
<path d="M594.30,612.00 L594.30,629.50 M594.30,633.20 L594.30,639.00 M594.30,643.10 L594.30,659.00 M594.30,659.00 L589.00,656.20 M571.50,645.50 L577.50,648.60" stroke="#000" stroke-width="1.1" fill="none" />
<ellipse cx="567.00" cy="643.10" rx="6.50" ry="6.80" stroke="#000" stroke-width="1.2" fill="#fff"/>
<ellipse cx="567.30" cy="643.20" rx="4.20" ry="4.60" stroke="#000" stroke-width="1.0" fill="#fff"/>
<ellipse cx="567.40" cy="643.30" rx="2.20" ry="2.50" stroke="#000" stroke-width="1.6" fill="#888"/>
<path d="M563.0,638.4 L565.4,641.0 M571.6,639.0 L569.4,641.4 M563.2,648.0 L565.6,645.6" stroke="#000" stroke-width="0.9" fill="none" />
<ellipse cx="581.40" cy="652.50" rx="5.90" ry="7.60" stroke="#000" stroke-width="0.7" fill="#fff" transform="rotate(22 581.40 652.50)"/>
<ellipse cx="582.60" cy="652.20" rx="5.90" ry="7.60" stroke="#000" stroke-width="1.1" fill="#fff" transform="rotate(22 582.60 652.20)"/>
<ellipse cx="583.10" cy="652.40" rx="3.54" ry="4.56" stroke="#333" stroke-width="0.8" fill="#fff" transform="rotate(22 583.10 652.40)"/>
<ellipse cx="583.10" cy="652.50" rx="1.59" ry="2.74" stroke="#000" stroke-width="1.0" fill="#fff" transform="rotate(22 583.10 652.50)"/>
<ellipse cx="574.68" cy="683.82" rx="4.50" ry="6.20" stroke="#000" stroke-width="1.1" fill="#fff" transform="rotate(-30 574.68 683.82)"/>
<path d="M559.89,685.24 L571.57,678.46 L577.79,689.19 L566.11,695.96 Z" stroke="#fff" stroke-width="0.01" fill="#fff" />
<line x1="559.89" y1="685.24" x2="571.57" y2="678.46" stroke="#000" stroke-width="1.1" />
<line x1="566.11" y1="695.96" x2="577.79" y2="689.19" stroke="#000" stroke-width="1.1" />
<ellipse cx="563.00" cy="690.60" rx="4.50" ry="6.20" stroke="#000" stroke-width="1.1" fill="#fff" transform="rotate(-30 563.00 690.60)"/>
<ellipse cx="563.20" cy="690.60" rx="2.00" ry="2.80" stroke="#000" stroke-width="1.0" fill="#fff" transform="rotate(-30 563.20 690.60)"/>
<path d="M497.3,652.8 Q497.6,649 500.2,648 Q503.4,646.6 506,649.2 L552.2,690.5 Q557,695 557.1,699.5 Q557,705 552.2,707.1 Q550,707.6 548.3,706.1 L499.7,675 Q497.4,673.5 497.3,671.1 Z" stroke="#000" stroke-width="1.3" fill="#fff" />
<path d="M498.6,652.2 Q499.6,650 501.7,649.8 Q503.4,650.4 504.6,652.1 L550.3,694.4 Q553.6,698 553.2,701.5 Q553,704 552,705.8" stroke="#000" stroke-width="1.0" fill="none" />
<ellipse cx="501.70" cy="655.50" rx="1.70" ry="1.90" stroke="#000" stroke-width="1.0" fill="none"/>
<ellipse cx="501.70" cy="671.10" rx="1.70" ry="1.90" stroke="#000" stroke-width="1.0" fill="none"/>
<ellipse cx="548.30" cy="699.30" rx="2.60" ry="3.30" stroke="#000" stroke-width="1.0" fill="none" transform="rotate(-20 548.30 699.30)"/>
<path d="M510.40,650.40 L537.00,635.60 M542.70,632.30 L552.00,627.10 M557.70,624.20 L591.90,605.00" stroke="#000" stroke-width="1.1" fill="none" />
<path d="M487.50,664.00 L500.70,656.10" stroke="#000" stroke-width="1.1" fill="none" />
<path d="M474.5,671.4 L488.6,663.4" stroke="#000" stroke-width="3.0" fill="none" />
<path d="M480.5,668.0 L488.2,663.6" stroke="#aaa" stroke-width="1.2" fill="none" stroke-dasharray="0.9 0.9"/>
<path d="M471.6,668.8 L476.6,666.2 L479.2,670.8 L474.2,673.8 Z" stroke="#000" stroke-width="1.0" fill="#333" />
<ellipse cx="524.20" cy="713.00" rx="4.90" ry="6.50" stroke="#000" stroke-width="0.7" fill="#fff" transform="rotate(-20 524.20 713.00)"/>
<ellipse cx="525.40" cy="712.70" rx="4.90" ry="6.50" stroke="#000" stroke-width="1.1" fill="#fff" transform="rotate(-20 525.40 712.70)"/>
<ellipse cx="525.90" cy="712.90" rx="2.94" ry="3.90" stroke="#333" stroke-width="0.8" fill="#fff" transform="rotate(-20 525.90 712.90)"/>
<ellipse cx="525.90" cy="713.00" rx="1.32" ry="2.34" stroke="#000" stroke-width="1.0" fill="#fff" transform="rotate(-20 525.90 713.00)"/>
<path d="M500.4,721.6 Q500.6,718.4 503.6,717.6 L508.6,717.0 Q511.4,717.6 512.8,720.4 L513.4,724.6 Q513.2,727.4 510.6,728.6 L506.0,730.4 Q503.0,730.6 501.6,728.2 Q500.2,725.4 500.4,721.6 Z" stroke="#000" stroke-width="1.2" fill="#fff" />
<ellipse cx="504.70" cy="724.20" rx="3.50" ry="4.70" stroke="#000" stroke-width="1.2" fill="#fff" transform="rotate(-15 504.70 724.20)"/>
<ellipse cx="504.60" cy="724.40" rx="1.60" ry="2.30" stroke="#000" stroke-width="1.0" fill="#aaa" transform="rotate(-15 504.60 724.40)"/>
<path d="M506.4,719.4 L509.4,718.6 L509.8,728.6 M509.4,718.6 L512.4,721.4" stroke="#000" stroke-width="0.9" fill="none" />
<path d="M486.40,607.60 L491.00,605.00 M502.00,598.80 L507.50,595.60 M528.40,583.70 L552.20,569.90" stroke="#000" stroke-width="1.1" fill="none" />
<ellipse cx="519.63" cy="587.79" rx="6.20" ry="11.30" stroke="#000" stroke-width="1.1" fill="#fff" transform="rotate(-30 519.63 587.79)"/>
<ellipse cx="518.07" cy="588.69" rx="6.20" ry="11.30" stroke="#000" stroke-width="1.1" fill="#fff" transform="rotate(-30 518.07 588.69)"/>
<ellipse cx="516.51" cy="589.59" rx="6.20" ry="11.30" stroke="#000" stroke-width="1.1" fill="#fff" transform="rotate(-30 516.51 589.59)"/>
<ellipse cx="514.96" cy="590.50" rx="6.20" ry="11.30" stroke="#000" stroke-width="1.1" fill="#fff" transform="rotate(-30 514.96 590.50)"/>
<ellipse cx="514.96" cy="590.50" rx="6.20" ry="11.30" stroke="#000" stroke-width="1.1" fill="#fff" transform="rotate(-30 514.96 590.50)"/>
<path d="M507.73,581.63 L509.28,580.72 L520.63,600.27 L519.07,601.17 Z" stroke="#fff" stroke-width="0.01" fill="#fff" />
<line x1="507.73" y1="581.63" x2="509.28" y2="580.72" stroke="#000" stroke-width="1.1" />
<line x1="519.07" y1="601.17" x2="520.63" y2="600.27" stroke="#000" stroke-width="1.1" />
<ellipse cx="513.40" cy="591.40" rx="6.20" ry="11.30" stroke="#000" stroke-width="1.2" fill="#fff" transform="rotate(-30 513.40 591.40)"/>
<ellipse cx="513.00" cy="591.60" rx="3.40" ry="6.00" stroke="#000" stroke-width="2.0" fill="#fff" transform="rotate(-30 513.00 591.60)"/>
<line x1="507.00" y1="595.20" x2="516.00" y2="590.00" stroke="#000" stroke-width="1.1" />
<ellipse cx="496.00" cy="601.40" rx="5.00" ry="7.00" stroke="#000" stroke-width="1.5" fill="#fff" transform="rotate(-25 496.00 601.40)"/>
<ellipse cx="496.20" cy="601.30" rx="3.00" ry="4.60" stroke="#000" stroke-width="1.0" fill="#fff" transform="rotate(-25 496.20 601.30)"/>
<line x1="491.50" y1="604.40" x2="500.50" y2="599.00" stroke="#000" stroke-width="0.9" />
<ellipse cx="482.45" cy="608.88" rx="2.90" ry="4.40" stroke="#000" stroke-width="1.1" fill="#fff" transform="rotate(-30 482.45 608.88)"/>
<path d="M474.88,608.18 L480.24,605.07 L484.66,612.68 L479.30,615.79 Z" stroke="#fff" stroke-width="0.01" fill="#fff" />
<line x1="474.88" y1="608.18" x2="480.24" y2="605.07" stroke="#000" stroke-width="1.1" />
<line x1="479.30" y1="615.79" x2="484.66" y2="612.68" stroke="#000" stroke-width="1.1" />
<ellipse cx="477.09" cy="611.99" rx="2.90" ry="4.40" stroke="#000" stroke-width="1.1" fill="#fff" transform="rotate(-30 477.09 611.99)"/>
<line x1="476.27" y1="607.93" x2="481.64" y2="605.02" stroke="#111" stroke-width="1.0" />
<line x1="477.92" y1="608.64" x2="483.20" y2="605.71" stroke="#111" stroke-width="1.0" />
<line x1="479.37" y1="610.16" x2="484.57" y2="607.17" stroke="#111" stroke-width="1.0" />
<line x1="480.26" y1="612.14" x2="485.42" y2="609.05" stroke="#111" stroke-width="1.0" />
<line x1="480.37" y1="614.07" x2="485.55" y2="610.89" stroke="#111" stroke-width="1.0" />
<ellipse cx="477.61" cy="611.69" rx="3.70" ry="5.60" stroke="#000" stroke-width="1.1" fill="#fff" transform="rotate(-30 477.61 611.69)"/>
<path d="M469.09,610.16 L474.80,606.84 L480.42,616.53 L474.71,619.84 Z" stroke="#fff" stroke-width="0.01" fill="#fff" />
<line x1="469.09" y1="610.16" x2="474.80" y2="606.84" stroke="#000" stroke-width="1.1" />
<line x1="474.71" y1="619.84" x2="480.42" y2="616.53" stroke="#000" stroke-width="1.1" />
<ellipse cx="471.90" cy="615.00" rx="3.70" ry="5.60" stroke="#000" stroke-width="1.1" fill="#fff" transform="rotate(-30 471.90 615.00)"/>
<line x1="471.28" y1="609.92" x2="476.98" y2="606.61" stroke="#555" stroke-width="0.7" />
<line x1="473.37" y1="611.05" x2="479.08" y2="607.74" stroke="#555" stroke-width="0.7" />
<line x1="475.10" y1="613.15" x2="480.81" y2="609.84" stroke="#555" stroke-width="0.7" />
<line x1="476.05" y1="615.70" x2="481.76" y2="612.39" stroke="#555" stroke-width="0.7" />
<ellipse cx="471.90" cy="615.00" rx="3.70" ry="5.60" stroke="#000" stroke-width="1.2" fill="#fff" transform="rotate(-30 471.90 615.00)"/>
<ellipse cx="472.10" cy="615.00" rx="1.80" ry="2.70" stroke="#000" stroke-width="1.1" fill="#ddd" transform="rotate(-30 472.10 615.00)"/>
<path d="M496.8,580.0 L499.6,578.2" stroke="#000" stroke-width="4.6" fill="none" stroke-linecap="round"/>
<path d="M496.8,580.0 L499.6,578.2" stroke="#fff" stroke-width="2.8" fill="none" stroke-linecap="round"/>
<path d="M539.9,515.4 L539.9,534.2" stroke="#000" stroke-width="4.2" fill="none" />
<path d="M539.9,515.4 L539.9,534.2" stroke="#fff" stroke-width="2.6" fill="none" />
<path d="M539.9,515.4 L539.9,534.4" stroke="#222" stroke-width="3.4" fill="none" stroke-dasharray="0.9 1.1"/>
<path d="M537.4,510.6 Q539.9,508.6 542.5,510.6 L542.5,515.4 L537.4,515.4 Z" stroke="#000" stroke-width="1.0" fill="#222" />
<line x1="539.70" y1="537.00" x2="539.70" y2="542.20" stroke="#000" stroke-width="0.9" />
</svg>
<div class="bar" style="top:770px;background:#e3e3e3"></div>
<div class="bar" style="top:772px;background:#24445c"></div>
<div class="bar" style="top:773px;background:#8cc4f0"></div>
<div class="bar" style="top:774px;background:#2878b4"></div>
</body></html>
